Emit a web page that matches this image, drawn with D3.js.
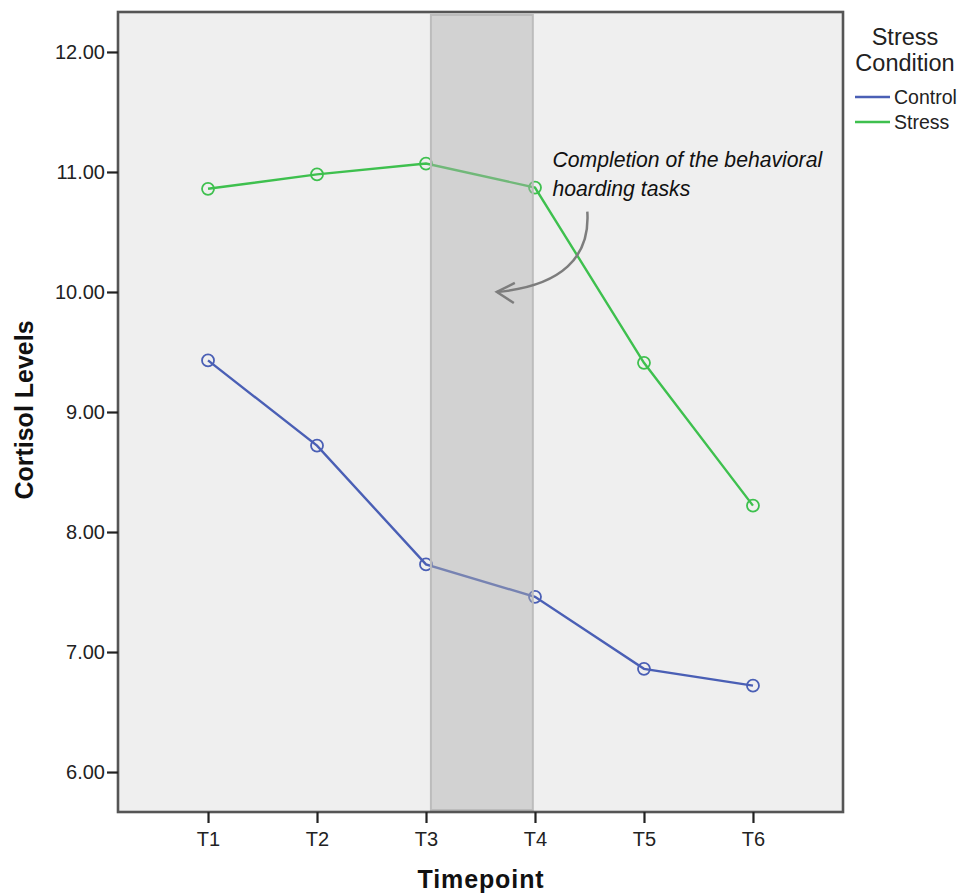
<!DOCTYPE html>
<html>
<head>
<meta charset="utf-8">
<script src="https://cdn.jsdelivr.net/npm/d3@7"></script>
<style>
  body { margin: 0; background: #fff; }
  text { font-family: "Liberation Sans", Arial, sans-serif; }
</style>
</head>
<body>
<svg id="chart"></svg>
<script>
const timepoints = ['T1', 'T2', 'T3', 'T4', 'T5', 'T6'];
const controlValues = [9.43, 8.72, 7.73, 7.46, 6.86, 6.72];
const stressValues = [10.86, 10.98, 11.07, 10.87, 9.41, 8.22];
const yTicks = [6, 7, 8, 9, 10, 11, 12];
const seriesNames = ['Control', 'Stress'];
const seriesColors = ['#4a5fb5', '#3ec04e'];

const svg = d3.select('#chart')
  .attr('width', 961)
  .attr('height', 895);

const margin = { top: 12, right: 118, bottom: 83, left: 118 };
const width = 961 - margin.left - margin.right;
const height = 895 - margin.top - margin.bottom;

const g = svg.append('g').attr('transform', `translate(${margin.left},${margin.top})`);

const x = d3.scalePoint()
  .domain(timepoints)
  .range([0, width])
  .padding(0.826);

const y = d3.scaleLinear()
  .domain([5.667, 12.333])
  .range([height, 0]);

// plot background
g.append('rect')
  .attr('width', width)
  .attr('height', height)
  .attr('fill', '#efefef');

const series = [
  { name: seriesNames[0], values: controlValues, color: seriesColors[0] },
  { name: seriesNames[1], values: stressValues, color: seriesColors[1] }
];

const line = d3.line()
  .x((d, i) => x(timepoints[i]))
  .y(d => y(d));

series.forEach(s => {
  g.append('path')
    .datum(s.values)
    .attr('fill', 'none')
    .attr('stroke', s.color)
    .attr('stroke-width', 2.4)
    .attr('d', line);

  g.selectAll(null)
    .data(s.values)
    .enter().append('circle')
    .attr('cx', (d, i) => x(timepoints[i]))
    .attr('cy', d => y(d))
    .attr('r', 6)
    .attr('fill', 'none')
    .attr('stroke', s.color)
    .attr('stroke-width', 1.8);
});

// shaded band between T3 and T4, drawn over the lines
const step = x.step();
g.append('rect')
  .attr('x', x('T3') + step * 0.045)
  .attr('y', 3)
  .attr('width', x('T4') - x('T3') - step * 0.065)
  .attr('height', height - 5)
  .attr('fill', '#b0b0b0')
  .attr('fill-opacity', 0.45)
  .attr('stroke', '#bcbcbc')
  .attr('stroke-width', 2);

// annotation
const ann = g.append('text')
  .attr('x', x('T4') + step * 0.16)
  .attr('y', y(11.04))
  .attr('font-size', 21.2)
  .attr('font-style', 'italic')
  .attr('fill', '#111');
ann.append('tspan').text('Completion of the behavioral');
ann.append('tspan')
  .attr('x', x('T4') + step * 0.16)
  .attr('dy', 29)
  .text('hoarding tasks');

const ax0 = x('T4') + step * 0.48, ay0 = y(10.67);
const ax1 = x('T3') + step * 0.65, ay1 = y(10.0);
g.append('path')
  .attr('d', `M${ax0},${ay0} C${ax0 + 3},${ay0 + 45} ${ax0 - 25},${ay1 - 6} ${ax1},${ay1}`)
  .attr('fill', 'none')
  .attr('stroke', '#7d7d7d')
  .attr('stroke-width', 2.5);
g.append('path')
  .attr('d', `M${ax1 + 18},${ay1 - 9} L${ax1},${ay1} L${ax1 + 17},${ay1 + 11}`)
  .attr('fill', 'none')
  .attr('stroke', '#7d7d7d')
  .attr('stroke-width', 2.5);

// frame
g.append('rect')
  .attr('width', width)
  .attr('height', height)
  .attr('fill', 'none')
  .attr('stroke', '#555')
  .attr('stroke-width', 2.6);

// Axes
const yAxis = g.append('g')
  .call(d3.axisLeft(y).tickValues(yTicks).tickFormat(d3.format('.2f')).tickSize(11).tickPadding(2));
const xAxis = g.append('g')
  .attr('transform', `translate(0,${height})`)
  .call(d3.axisBottom(x).tickSize(11).tickPadding(9));

[yAxis, xAxis].forEach(a => {
  a.select('.domain').remove();
  a.selectAll('.tick line').attr('stroke', '#222').attr('stroke-width', 2.2);
  a.selectAll('.tick text')
    .attr('font-family', '"Liberation Sans", Arial, sans-serif')
    .attr('font-size', 20)
    .attr('fill', '#222');
});

// axis titles
svg.append('text')
  .attr('x', 481)
  .attr('y', 888)
  .attr('text-anchor', 'middle')
  .attr('font-size', 25)
  .attr('font-weight', 'bold')
  .attr('letter-spacing', 0.9)
  .attr('fill', '#111')
  .text('Timepoint');

svg.append('text')
  .attr('transform', 'translate(33,410) rotate(-90)')
  .attr('text-anchor', 'middle')
  .attr('font-size', 25)
  .attr('font-weight', 'bold')
  .attr('fill', '#111')
  .text('Cortisol Levels');

// legend
const legend = svg.append('g');
legend.append('text')
  .attr('x', 905).attr('y', 45)
  .attr('text-anchor', 'middle')
  .attr('font-size', 23.5)
  .attr('fill', '#222')
  .text('Stress');
legend.append('text')
  .attr('x', 905).attr('y', 71)
  .attr('text-anchor', 'middle')
  .attr('font-size', 23.5)
  .attr('fill', '#222')
  .text('Condition');

series.forEach((s, i) => {
  const ly = 97 + i * 25;
  legend.append('line')
    .attr('x1', 855).attr('x2', 890)
    .attr('y1', ly).attr('y2', ly)
    .attr('stroke', s.color)
    .attr('stroke-width', 2.4);
  legend.append('text')
    .attr('x', 894).attr('y', ly + 7)
    .attr('font-size', 19.5)
    .attr('fill', '#222')
    .text(s.name);
});
</script>
</body>
</html>
